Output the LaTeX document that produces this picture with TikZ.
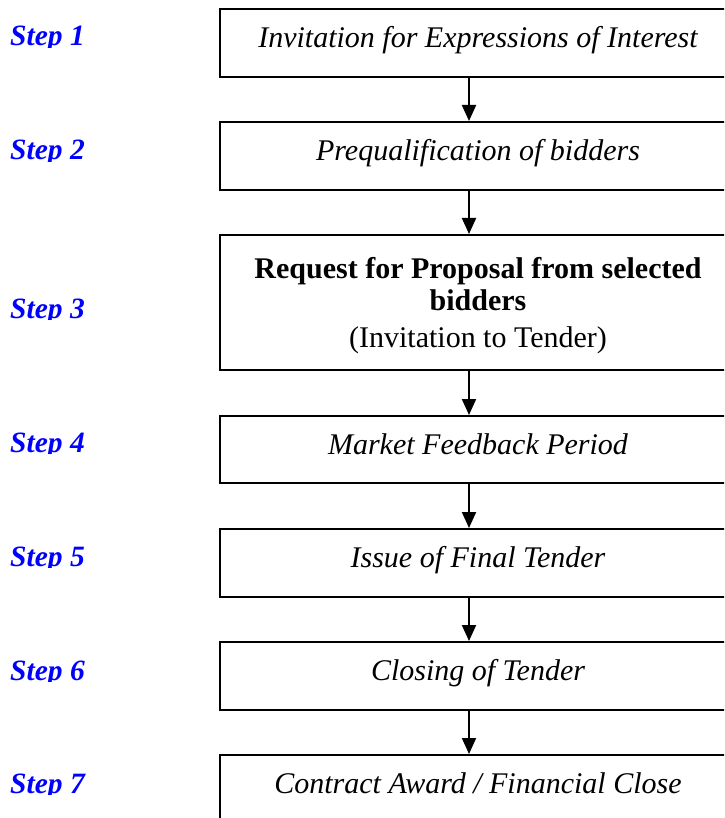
\documentclass[tikz,border=0pt]{standalone}
\usepackage{fontspec}
\setmainfont{Liberation Serif}
\usetikzlibrary{arrows.meta}
\definecolor{steplabel}{RGB}{0,0,255}
\begin{document}
\begin{tikzpicture}[x=1pt,y=-1pt,
  box/.style={draw, line width=2pt, minimum width=516pt, align=center, inner sep=0pt,
    font=\fontsize{30}{32}\selectfont\itshape},
  onebox/.style={box, text height=21pt, text depth=12pt},
  steplbl/.style={anchor=base west, text=steplabel, inner sep=0pt,
    font=\fontsize{29.5}{32}\selectfont\bfseries\itshape},
  flow/.style={-{Triangle[length=16pt,width=14pt]}, line width=2pt}]
\useasboundingbox (0,0) rectangle (724,818);
\clip (0,0) rectangle (724,818);
\coordinate (ax) at (469,0);
\node[onebox, minimum height=68pt] (b1) at (478,43) {Invitation for Expressions of Interest};
\node[onebox, minimum height=68pt] (b2) at (478,156) {Prequalification of bidders};
\node[box, minimum height=135pt] (b3) at (478,302.5) {\rule{0pt}{28pt}\upshape\bfseries Request for Proposal from selected\\\upshape\bfseries bidders\\[5pt]\upshape (Invitation to Tender)};
\node[onebox, minimum height=67pt] (b4) at (478,449.5) {Market Feedback Period};
\node[onebox, minimum height=68pt] (b5) at (478,563) {Issue of Final Tender};
\node[onebox, minimum height=68pt] (b6) at (478,676) {Closing of Tender};
\node[onebox, minimum height=68pt] (b7) at (478,789) {Contract Award / Financial Close};
\begin{scope}\clip (0,6) rectangle (210,47.5);\node[steplbl] (s1) at (10,46) {Step 1};\end{scope}
\begin{scope}\clip (0,120) rectangle (210,161.5);\node[steplbl] (s2) at (10,160) {Step 2};\end{scope}
\begin{scope}\clip (0,278) rectangle (210,319.5);\node[steplbl] (s3) at (10,318) {Step 3};\end{scope}
\begin{scope}\clip (0,412) rectangle (210,453.5);\node[steplbl] (s4) at (10,452) {Step 4};\end{scope}
\begin{scope}\clip (0,526) rectangle (210,567.5);\node[steplbl] (s5) at (10,566) {Step 5};\end{scope}
\begin{scope}\clip (0,640) rectangle (210,681.5);\node[steplbl] (s6) at (10,680) {Step 6};\end{scope}
\begin{scope}\clip (0,753) rectangle (210,794.5);\node[steplbl] (s7) at (10,793) {Step 7};\end{scope}
\draw[flow] (b1.south -| ax) -- (b2.north -| ax);
\draw[flow] (b2.south -| ax) -- (b3.north -| ax);
\draw[flow] (b3.south -| ax) -- (b4.north -| ax);
\draw[flow] (b4.south -| ax) -- (b5.north -| ax);
\draw[flow] (b5.south -| ax) -- (b6.north -| ax);
\draw[flow] (b6.south -| ax) -- (b7.north -| ax);
\end{tikzpicture}
\end{document}
